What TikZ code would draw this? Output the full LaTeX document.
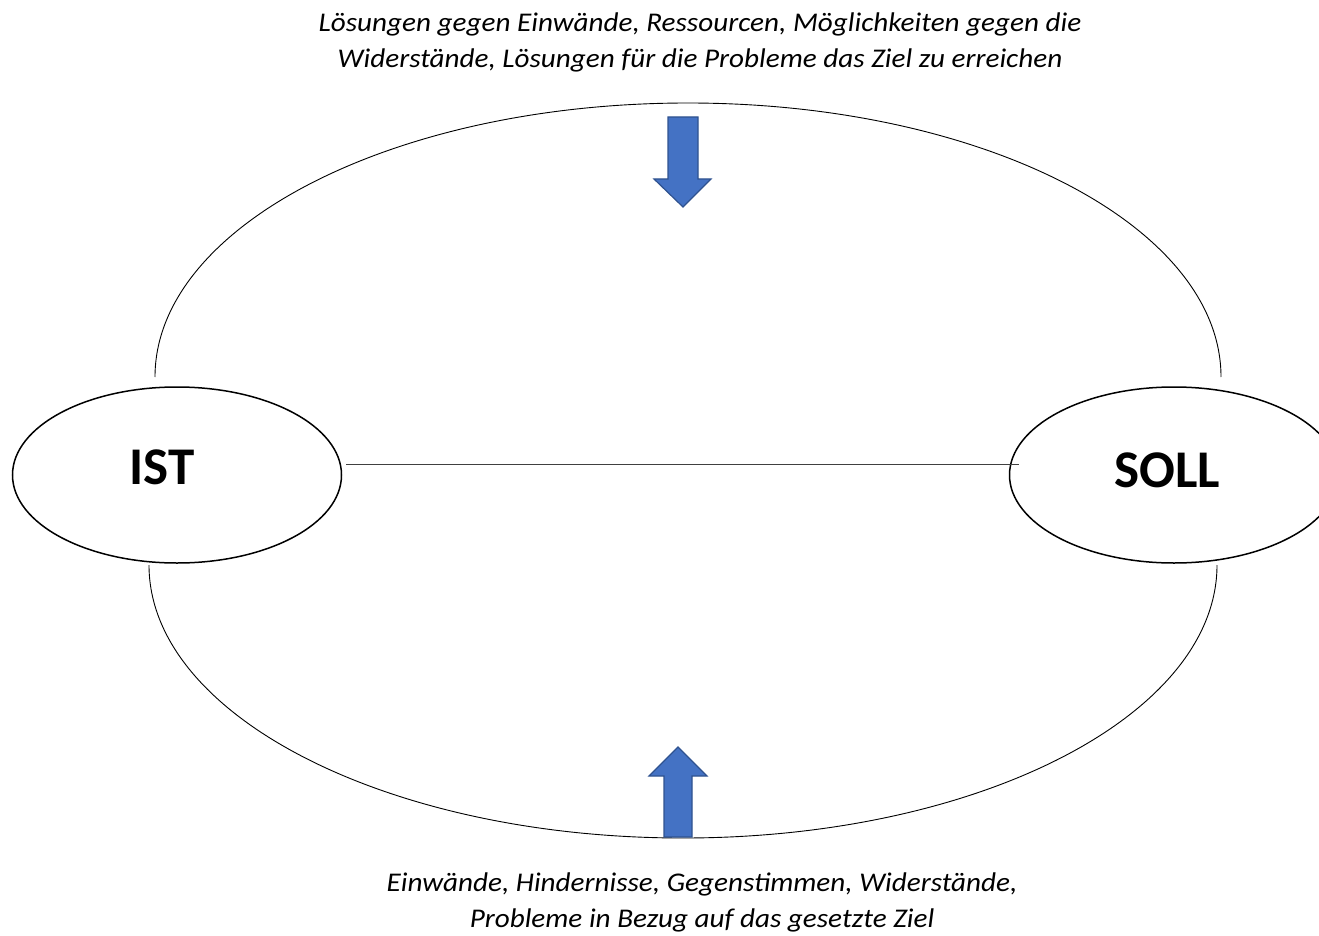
\documentclass[tikz,border=0pt]{standalone}
\usepackage{fontspec}
\setmainfont{Carlito}
\newfontfamily\capfont[FakeStretch=1.08]{Carlito}
\usetikzlibrary{shapes.geometric}
\definecolor{arrowfill}{HTML}{4472C4}
\definecolor{arrowline}{HTML}{2F528F}
\definecolor{midline}{HTML}{404040}
\tikzset{
  statebox/.style={draw=black, line width=1.5pt, ellipse, inner sep=0pt,
    minimum width=329pt, minimum height=176pt},
  statetext/.style={inner sep=0pt, font=\fontsize{53}{58}\selectfont\bfseries},
  bigarc/.style={draw=black, line width=0.9pt},
  blockarrow/.style={fill=arrowfill, draw=arrowline, line width=1.2pt, line join=miter},
  caption/.style={align=center, font=\capfont\fontsize{27}{36}\selectfont\itshape, inner sep=0pt}
}
\begin{document}
\begin{tikzpicture}[x=1pt,y=-1pt]
\useasboundingbox (0,0) rectangle (1319,936);
\clip (0,0) rectangle (1319,936);
% big arcs
\draw[bigarc] (155,377) arc[start angle=180, end angle=360, x radius=533, y radius=274];
\draw[bigarc] (149,565) arc[start angle=180, end angle=0, x radius=534, y radius=273];
% state ellipses
\node[statebox] (ist) at (177,475) {};
\node[statebox] (soll) at (1174,475) {};
\node[statetext] (isttext) at (162,467) {IST};
\node[statetext] (solltext) at (1167,470) {SOLL};
% connecting line
\coordinate (lstart) at (346,464);
\coordinate (lend) at (1019,464);
\draw[midline, line width=1pt] (lstart) -- (lend);
% arrows
\draw[blockarrow] (668,117) -- (698,117) -- (698,179) -- (711,179) -- (683,207) -- (654,179) -- (668,179) -- cycle;
\draw[blockarrow] (678,747) -- (707,776) -- (692,776) -- (692,837) -- (664,837) -- (664,776) -- (649,776) -- cycle;
% captions
\node[caption] (top) at (700,42) {Lösungen gegen Einwände, Ressourcen, Möglichkeiten gegen die\\Widerstände, Lösungen für die Probleme das Ziel zu erreichen};
\node[caption] (bottom) at (702,902) {Einwände, Hindernisse, Gegenstimmen, Widerstände,\\Probleme in Bezug auf das gesetzte Ziel};
\end{tikzpicture}
\end{document}
